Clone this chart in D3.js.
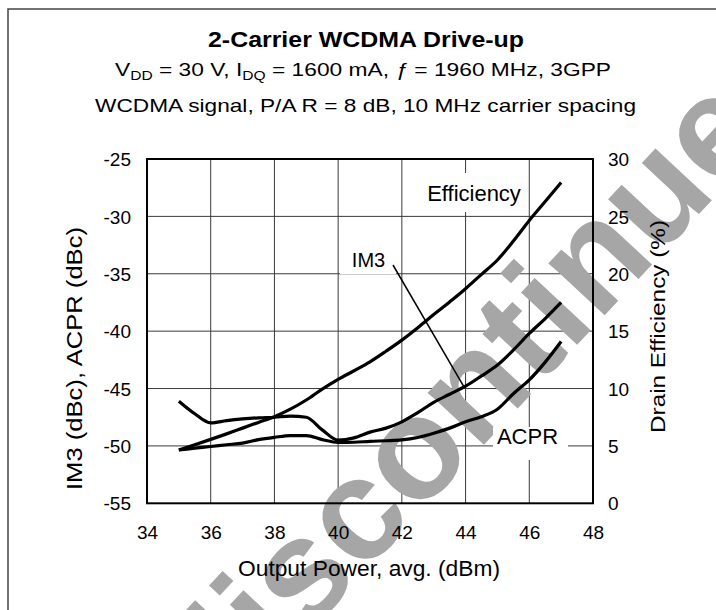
<!DOCTYPE html>
<html><head><meta charset="utf-8">
<script src="https://cdn.jsdelivr.net/npm/d3@7"></script>
<style>
html,body{margin:0;padding:0;background:#fff;}
svg{display:block;font-family:"Liberation Sans",Arial,sans-serif;}
</style></head>
<body><svg id="c" width="716" height="610"></svg>
<script>
// ---- data ----
const power = [35,35.5,36,36.5,37,37.5,38,38.5,39,39.5,40,40.5,41,41.5,42,42.5,43,43.5,44,44.5,45,45.5,46,46.5,47];
const im3   = [-46.1,-47.2,-48.0,-47.8,-47.65,-47.55,-47.5,-47.4,-47.5,-48.6,-49.5,-49.3,-48.8,-48.45,-47.9,-47.1,-46.2,-45.5,-44.8,-43.9,-42.95,-41.65,-40.2,-38.9,-37.5];
const acpr  = [-50.35,-50.2,-50.05,-49.9,-49.75,-49.45,-49.25,-49.1,-49.1,-49.45,-49.7,-49.68,-49.6,-49.55,-49.48,-49.27,-48.9,-48.45,-47.9,-47.45,-46.8,-45.45,-44.25,-42.7,-40.9];
const effic = [4.64,5.1,5.57,6.05,6.55,7.05,7.55,8.2,9.0,9.95,10.8,11.55,12.33,13.25,14.22,15.3,16.45,17.55,18.7,19.95,21.2,22.85,24.65,26.3,27.95];
const xTicks = [34,36,38,40,42,44,46,48];
const yLeftTicks = [-55,-50,-45,-40,-35,-30,-25];
const yRightTicks = [0,5,10,15,20,25,30];

const svg = d3.select("#c");
const L = 147, R = 593, T = 159, B = 503.3;
const x = d3.scaleLinear().domain([34,48]).range([L,R]);
const yL = d3.scaleLinear().domain([-55,-25]).range([B,T]);
const yR = d3.scaleLinear().domain([0,30]).range([B,T]);
const fmt = d => String(d);

// outer frame
svg.append("rect").attr("x",8).attr("y",9).attr("width",730).attr("height",640)
  .attr("fill","none").attr("stroke","#444").attr("stroke-width",1.5);

// titles
svg.append("text").attr("x",366).attr("y",47).attr("text-anchor","middle")
  .attr("font-size",22).attr("font-weight","bold").attr("textLength",316).attr("lengthAdjust","spacingAndGlyphs")
  .text("2-Carrier WCDMA Drive-up");
const s1 = svg.append("text").attr("x",363).attr("y",76).attr("text-anchor","middle")
  .attr("font-size",19).attr("textLength",496).attr("lengthAdjust","spacingAndGlyphs");
s1.append("tspan").text("V");
s1.append("tspan").attr("dy",4).attr("font-size",13).text("DD");
s1.append("tspan").attr("dy",-4).text(" = 30 V, I");
s1.append("tspan").attr("dy",4).attr("font-size",13).text("DQ");
s1.append("tspan").attr("dy",-4).text(" = 1600 mA, ");
s1.append("tspan").attr("font-style","italic").text("ƒ");
s1.append("tspan").text(" = 1960 MHz, 3GPP");
svg.append("text").attr("x",365.5).attr("y",112).attr("text-anchor","middle")
  .attr("font-size",19).attr("textLength",541).attr("lengthAdjust","spacingAndGlyphs")
  .text("WCDMA signal, P/A R = 8 dB, 10 MHz carrier spacing");

// grid
const grid = svg.append("g").attr("stroke","#3a3a3a").attr("stroke-width",1);
xTicks.slice(1,-1).forEach(v=>grid.append("line").attr("x1",x(v)).attr("x2",x(v)).attr("y1",T).attr("y2",B));
yLeftTicks.slice(1,-1).forEach(v=>grid.append("line").attr("x1",L).attr("x2",R).attr("y1",yL(v)).attr("y2",yL(v)));

// watermark
svg.append("text").attr("transform","translate(497,372) rotate(-47)")
  .attr("text-anchor","middle").attr("y",40).attr("font-size",145).attr("font-weight","bold")
  .attr("fill","#a6a6a6").text("discontinued");

// plot border
svg.append("rect").attr("x",L).attr("y",T).attr("width",R-L).attr("height",B-T)
  .attr("fill","none").attr("stroke","#000").attr("stroke-width",2);

// axes (labels only)
const ax = d3.axisBottom(x).tickValues(xTicks).tickFormat(fmt).tickSize(0).tickPadding(0);
const gx = svg.append("g").attr("transform",`translate(0,${B})`).call(ax);
gx.select(".domain").remove();
gx.selectAll("text").attr("y",36).attr("dy",null).attr("font-size",19).attr("font-family","Liberation Sans, Arial").attr("fill","#000");

const ayl = d3.axisLeft(yL).tickValues(yLeftTicks).tickFormat(fmt).tickSize(0).tickPadding(0);
const gyl = svg.append("g").attr("transform",`translate(131,0)`).call(ayl);
gyl.select(".domain").remove();
gyl.selectAll("text").attr("x",0).attr("dy","0.35em").attr("font-size",19).attr("font-family","Liberation Sans, Arial").attr("fill","#000");

const ayr = d3.axisRight(yR).tickValues(yRightTicks).tickFormat(fmt).tickSize(0).tickPadding(0);
const gyr = svg.append("g").attr("transform",`translate(608,0)`).call(ayr);
gyr.select(".domain").remove();
gyr.selectAll("text").attr("x",0).attr("dy","0.35em").attr("font-size",19).attr("font-family","Liberation Sans, Arial").attr("fill","#000");

// axis titles
svg.append("text").attr("transform","translate(82,358.5) rotate(-90)").attr("text-anchor","middle")
  .attr("font-size",22).attr("textLength",263).attr("lengthAdjust","spacingAndGlyphs")
  .text("IM3 (dBc), ACPR (dBc)");
svg.append("text").attr("transform","translate(665,326.5) rotate(-90)").attr("text-anchor","middle")
  .attr("font-size",21).attr("textLength",213).attr("lengthAdjust","spacingAndGlyphs")
  .text("Drain Efficiency (%)");
svg.append("text").attr("x",369).attr("y",576).attr("text-anchor","middle")
  .attr("font-size",22).attr("textLength",262).attr("lengthAdjust","spacingAndGlyphs")
  .text("Output Power, avg. (dBm)");

// label boxes
svg.append("rect").attr("x",422).attr("y",173).attr("width",104).attr("height",39).attr("fill","#fff");
svg.append("rect").attr("x",340).attr("y",246).attr("width",56).attr("height",28).attr("fill","#fff");
svg.append("rect").attr("x",493).attr("y",427).attr("width",75).attr("height",33).attr("fill","#fff");

// curves
const lineL = d3.line().x((d,i)=>x(power[i])).y(d=>yL(d)).curve(d3.curveMonotoneX);
const lineR = d3.line().x((d,i)=>x(power[i])).y(d=>yR(d)).curve(d3.curveMonotoneX);
const cg = svg.append("g").attr("fill","none").attr("stroke","#000").attr("stroke-width",3.2).attr("stroke-linejoin","round");
cg.append("path").attr("d",lineL(im3));
cg.append("path").attr("d",lineL(acpr));
cg.append("path").attr("d",lineR(effic));

// annotations
svg.append("text").attr("x",474).attr("y",201).attr("text-anchor","middle").attr("font-size",22).text("Efficiency");
svg.append("text").attr("x",368.5).attr("y",267).attr("text-anchor","middle").attr("font-size",20).text("IM3");
svg.append("text").attr("x",527.5).attr("y",444).attr("text-anchor","middle").attr("font-size",22).text("ACPR");
// IM3 leader line
svg.append("line").attr("x1",393).attr("y1",265).attr("x2",x(43.95)).attr("y2",yL(-44.85))
  .attr("stroke","#000").attr("stroke-width",1.5);
</script></body></html>
